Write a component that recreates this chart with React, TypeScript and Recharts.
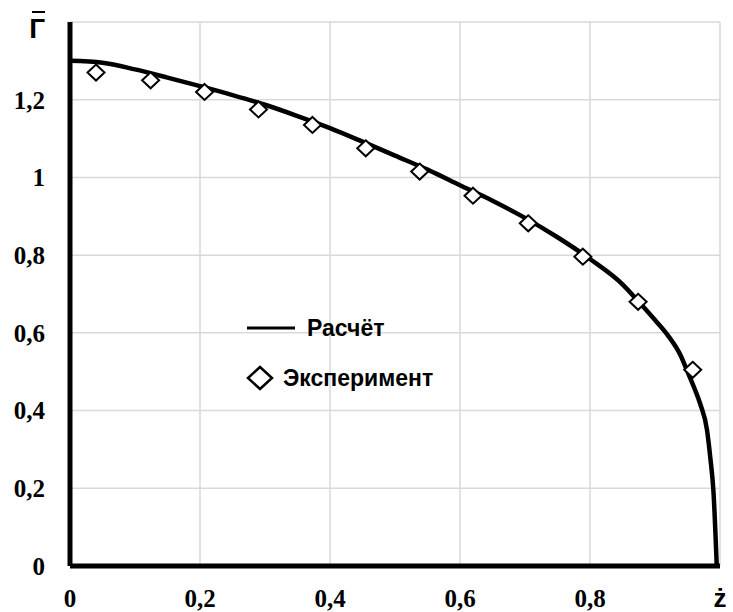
import React from "react";
import {
  CartesianGrid,
  ComposedChart,
  Line,
  Scatter,
  XAxis,
  YAxis
} from "recharts";

// calculated curve (Расчёт)
const calcZ = [0, 0.05, 0.1, 0.15, 0.2, 0.25, 0.3, 0.35, 0.4, 0.45, 0.5, 0.55, 0.6, 0.65, 0.7, 0.75, 0.8, 0.85, 0.875, 0.9, 0.92, 0.94, 0.95, 0.96, 0.97, 0.98, 0.985, 0.99, 0.995];
const calcG = [1.3, 1.295, 1.278, 1.257, 1.235, 1.212, 1.187, 1.158, 1.127, 1.092, 1.056, 1.02, 0.98, 0.94, 0.896, 0.846, 0.79, 0.725, 0.68, 0.633, 0.593, 0.54, 0.5, 0.46, 0.415, 0.35, 0.28, 0.19, 0];

// experiment points (Эксперимент)
const expZ = [0.04, 0.124, 0.207, 0.29, 0.373, 0.455, 0.538, 0.62, 0.705, 0.789, 0.874, 0.958];
const expG = [1.27, 1.25, 1.22, 1.175, 1.135, 1.075, 1.015, 0.953, 0.882, 0.796, 0.68, 0.505];

const xTicks = [0, 0.2, 0.4, 0.6, 0.8, 1];
const yTicks = [0, 0.2, 0.4, 0.6, 0.8, 1, 1.2, 1.4];

const calcData = calcZ.map((z, i) => ({ z, g: calcG[i] }));
const expData = expZ.map((z, i) => ({ z, g: expG[i] }));

const serif = "'Liberation Serif', 'Times New Roman', serif";
const sans = "'Liberation Sans', Arial, sans-serif";

const fmt = (v: number) => String(v).replace(".", ",");

function XTick({ x, y, payload }: any) {
  if (payload.value === 1) {
    return (
      <text x={x} y={y} dy="0.71em" textAnchor="middle" fontFamily={sans} fontWeight="bold" fontSize={26} fill="#000">
        ż
      </text>
    );
  }
  return (
    <text x={x} y={y} dy="0.71em" textAnchor="middle" fontFamily={serif} fontWeight="bold" fontSize={25} fill="#000">
      {fmt(payload.value)}
    </text>
  );
}

function YTick({ x, y, payload }: any) {
  if (payload.value === 1.4) {
    return (
      <g>
        <line x1={x - 13} x2={x} y1={y - 10} y2={y - 10} stroke="#000" strokeWidth={2} />
        <text x={x} y={y + 16} textAnchor="end" fontFamily={sans} fontWeight="bold" fontSize={28} fill="#000">
          Г
        </text>
      </g>
    );
  }
  return (
    <text x={x} y={y} dy="0.355em" textAnchor="end" fontFamily={serif} fontWeight="bold" fontSize={25} fill="#000">
      {fmt(payload.value)}
    </text>
  );
}

const Diamond = ({ cx, cy }: any) => (
  <polygon
    points={`${cx},${cy - 8} ${cx + 8.5},${cy} ${cx},${cy + 8} ${cx - 8.5},${cy}`}
    fill="#fff"
    stroke="#000"
    strokeWidth={2}
  />
);

function LegendBox() {
  return (
    <div
      style={{
        position: "absolute",
        left: 240,
        top: 313,
        fontFamily: sans,
        fontWeight: "bold",
        fontSize: 23,
        color: "#000",
        lineHeight: "30px"
      }}
    >
      <div style={{ display: "flex", alignItems: "center", height: 30 }}>
        <svg width={67} height={30}>
          <line x1={7} x2={55} y1={15} y2={15} stroke="#000" strokeWidth={3} />
        </svg>
        <span>Расчёт</span>
      </div>
      <div style={{ display: "flex", alignItems: "center", height: 30, marginTop: 20 }}>
        <svg width={43} height={30}>
          <polygon points="20,4 32,15 20,26 8,15" fill="#fff" stroke="#000" strokeWidth={2.5} />
        </svg>
        <span>Эксперимент</span>
      </div>
    </div>
  );
}

export default function App() {
  return (
    <div style={{ position: "absolute", left: 0, top: 0, width: 733, height: 612, background: "#fff" }}>
      <ComposedChart width={733} height={612} margin={{ top: 22, right: 13, bottom: 0, left: 0 }}>
        <CartesianGrid stroke="#d9d9d9" strokeWidth={1.5} />
        <XAxis
          type="number"
          dataKey="z"
          domain={[0, 1]}
          ticks={xTicks}
          interval={0}
          height={46}
          tickSize={0}
          tickMargin={23}
          tickLine={false}
          axisLine={{ stroke: "#000", strokeWidth: 5 }}
          tick={<XTick />}
        />
        <YAxis
          type="number"
          dataKey="g"
          domain={[0, 1.4]}
          ticks={yTicks}
          interval={0}
          width={70}
          tickSize={0}
          tickMargin={25}
          tickLine={false}
          axisLine={{ stroke: "#000", strokeWidth: 5 }}
          tick={<YTick />}
        />
        <Line
          data={calcData}
          dataKey="g"
          type="monotone"
          stroke="#000"
          strokeWidth={4.5}
          dot={false}
          isAnimationActive={false}
        />
        <Scatter data={expData} dataKey="g" shape={<Diamond />} isAnimationActive={false} />
      </ComposedChart>
      <LegendBox />
    </div>
  );
}
